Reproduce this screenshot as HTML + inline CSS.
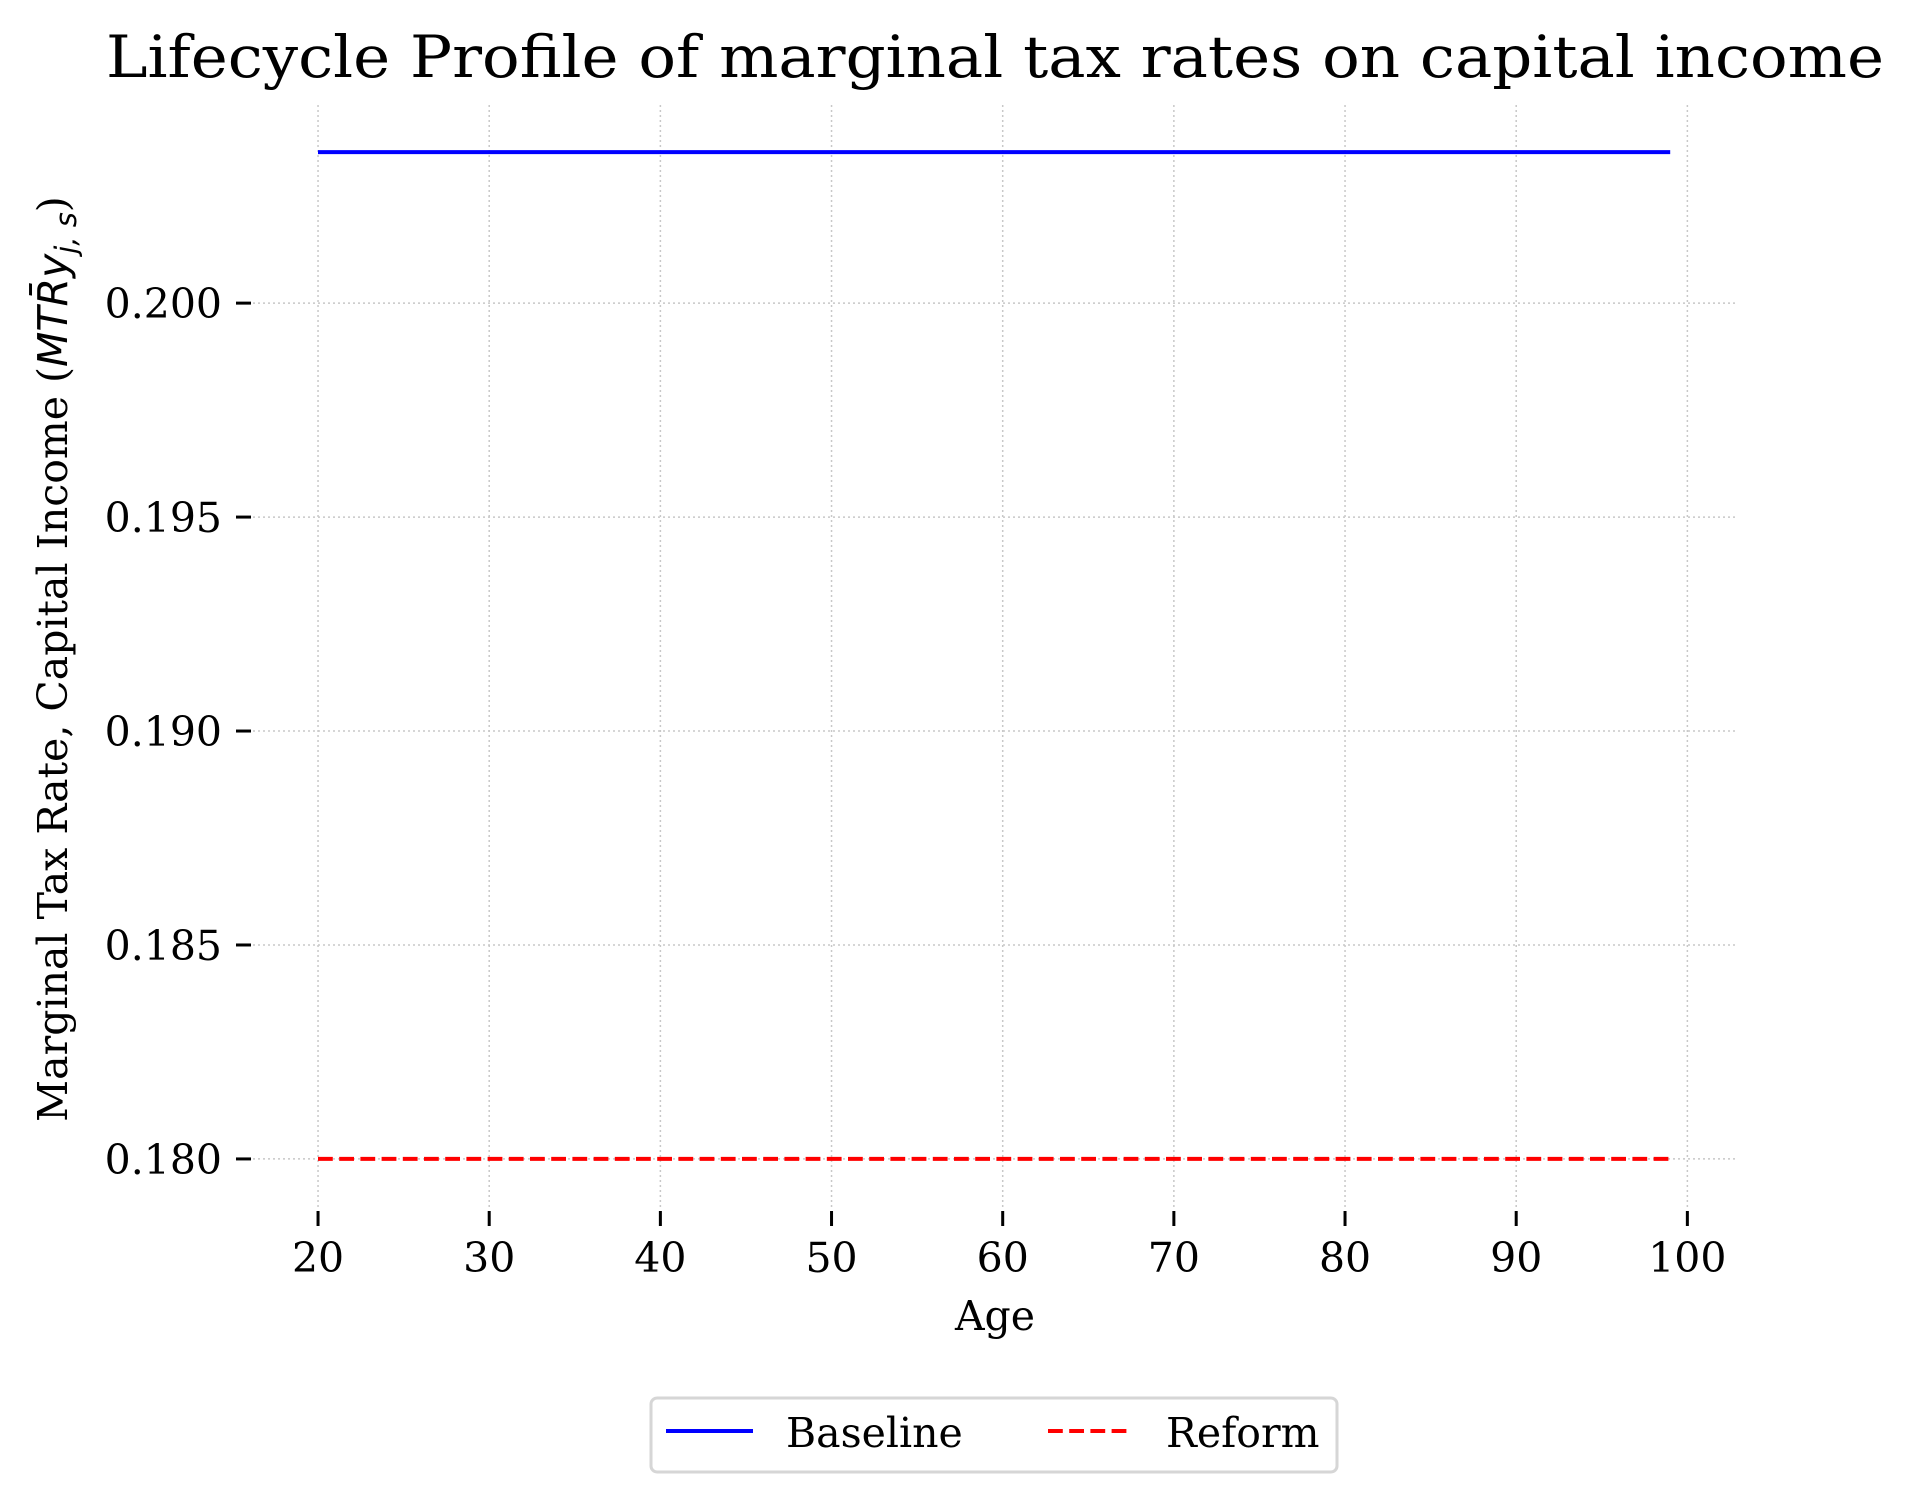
<!DOCTYPE html>
<html><head><meta charset="utf-8"><style>
html,body{margin:0;padding:0;background:#fff;}
svg{display:block;font-family:"DejaVu Serif","Liberation Serif",serif;}
</style></head><body>
<svg id="chart" width="1913" height="1501" viewBox="0 0 1913 1501" xmlns="http://www.w3.org/2000/svg">
<text x="106" y="77" font-size="58" textLength="1778" lengthAdjust="spacingAndGlyphs">Lifecycle Profile of marginal tax rates on capital income</text>
<g id="grid"></g>
<g id="ticks"></g>
<g id="series"></g>
<text x="995" y="1330" font-size="41" text-anchor="middle">Age</text>
<text transform="translate(67,659) rotate(-90)" font-size="41" text-anchor="middle">Marginal Tax Rate, Capital Income (<tspan font-style="italic" font-family="DejaVu Sans, sans-serif">MTR̄y</tspan><tspan font-style="italic" font-family="DejaVu Sans, sans-serif" font-size="29" dy="9">j, s</tspan><tspan dy="-9">)</tspan></text>
<g>
<rect x="651" y="1398" width="686" height="74" rx="6" fill="#fff" stroke="#d6d6d6" stroke-width="3"/>
<g>
<line x1="666" y1="1431" x2="753" y2="1431" stroke="#0000ff" stroke-width="4"/>
<text x="786" y="1447" font-size="41">Baseline</text></g>
<g>
<line x1="1048" y1="1431" x2="1130" y2="1431" stroke="#ff0000" stroke-width="4" stroke-dasharray="14.8,6.4"/>
<text x="1166" y="1447" font-size="41">Reform</text></g>
</g>
</svg>
<script>
const ages = [20,21,22,23,24,25,26,27,28,29,30,31,32,33,34,35,36,37,38,39,40,41,42,43,44,45,46,47,48,49,50,51,52,53,54,55,56,57,58,59,60,61,62,63,64,65,66,67,68,69,70,71,72,73,74,75,76,77,78,79,80,81,82,83,84,85,86,87,88,89,90,91,92,93,94,95,96,97,98,99];
const baselineValue = 0.20353;
const reformValue = 0.18;
const baseline = ages.map(() => baselineValue);
const reform = ages.map(() => reformValue);
const xTicks = [20,30,40,50,60,70,80,90,100];
const yTicks = [0.180,0.185,0.190,0.195,0.200];
const yTickLabels = ["0.180","0.185","0.190","0.195","0.200"];

const NS = "http://www.w3.org/2000/svg";
const L = 253, R = 1737, T = 105, B = 1209;
const xMin = 16.2, xMax = 102.9, yMin = 0.17883, yMax = 0.20463;
const xs = v => L + (v - xMin) / (xMax - xMin) * (R - L);
const ys = v => B - (v - yMin) / (yMax - yMin) * (B - T);
function mk(tag, attrs, parent){const e=document.createElementNS(NS,tag);for(const k in attrs)e.setAttribute(k,attrs[k]);parent.appendChild(e);return e;}
const grid = document.getElementById('grid'), ticks = document.getElementById('ticks'), series = document.getElementById('series');
xTicks.forEach(t => {
  const x = xs(t);
  const g = mk('line',{x1:x,y1:T,x2:x,y2:B,stroke:'#c8c8c8','stroke-width':1.5,'stroke-dasharray':'2,3'},grid);
  
  
  const tk = mk('line',{x1:x,y1:1211,x2:x,y2:1226,stroke:'#000','stroke-width':3},ticks);
  
  
  const tl = mk('text',{x:x,y:1272,'font-size':41,'text-anchor':'middle'},ticks);
  tl.textContent = String(t);
  
  
});
yTicks.forEach((t,i) => {
  const y = ys(t);
  const g = mk('line',{x1:L,y1:y,x2:R,y2:y,stroke:'#c8c8c8','stroke-width':1.5,'stroke-dasharray':'2,3'},grid);
  
  
  const tk = mk('line',{x1:236,y1:y,x2:251,y2:y,stroke:'#000','stroke-width':3},ticks);
  
  
  const tl = mk('text',{x:222,y:y+15,'font-size':41,'text-anchor':'end'},ticks);
  tl.textContent = yTickLabels[i];
  
  
});
function path(vals){return vals.map((v,i)=>(i?'L':'M')+xs(ages[i]).toFixed(1)+','+ys(v).toFixed(1)).join(' ');}
const pb = mk('path',{d:path(baseline),fill:'none',stroke:'#0000ff','stroke-width':4},series);


const pr = mk('path',{d:path(reform),fill:'none',stroke:'#ff0000','stroke-width':4,'stroke-dasharray':'14.8,6.4'},series);


</script>
</body></html>
